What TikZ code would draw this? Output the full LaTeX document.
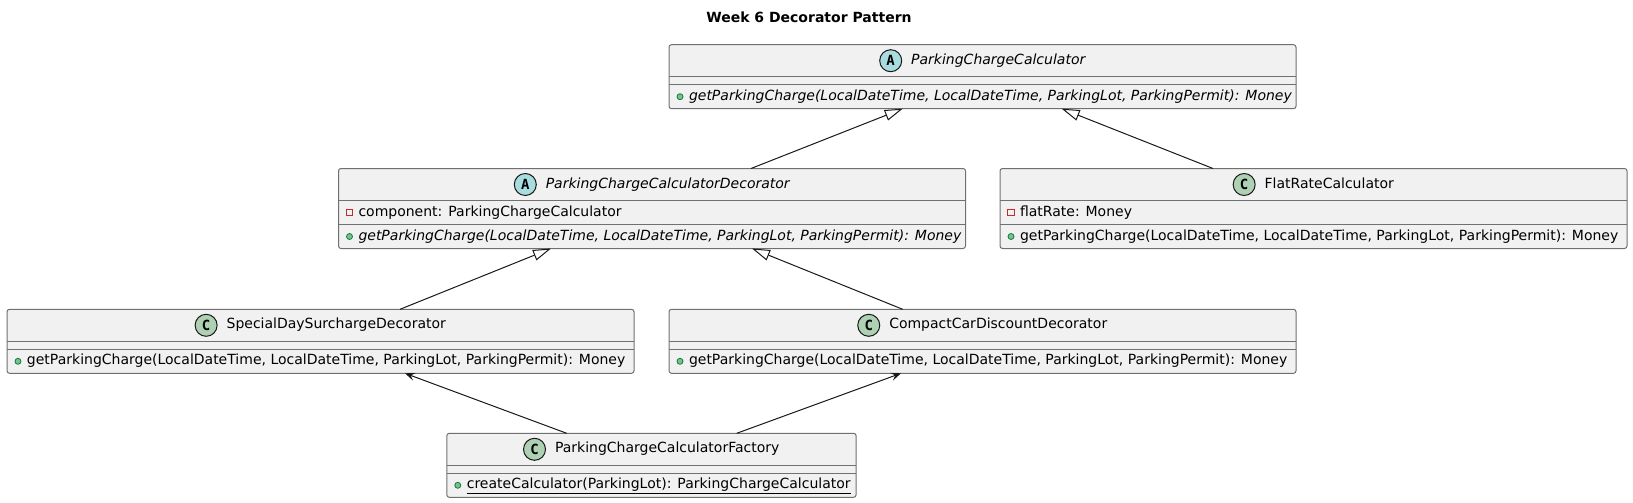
\documentclass[tikz,border=0pt]{standalone}
\usepackage{fontspec}
\setmainfont{DejaVu Sans}
\newfontfamily\iconfont{DejaVu Sans Mono}
\usetikzlibrary{arrows.meta}
\definecolor{boxfill}{HTML}{F1F1F1}
\definecolor{boxline}{HTML}{707070}
\definecolor{edgecol}{HTML}{181818}
\definecolor{absfill}{HTML}{A9DCDF}
\definecolor{clsfill}{HTML}{ADD1B2}
\definecolor{pubfill}{HTML}{84BE84}
\definecolor{publine}{HTML}{038048}
\definecolor{privline}{HTML}{C82930}
\tikzset{
  classbox/.style={draw=boxline, fill=boxfill, line width=1pt, rounded corners=2.5pt,
    inner sep=0pt, outer sep=0pt, anchor=north west},
  sepline/.style={draw=boxline, line width=1pt},
  hname/.style={inner sep=0pt, outer sep=0pt, text height=10pt, text depth=3pt},
  mtext/.style={anchor=west, inner sep=0pt, outer sep=0pt, text height=10pt, text depth=3pt},
  iconbase/.style={circle, draw=edgecol, line width=1pt, minimum size=22pt, inner sep=0pt,
    font=\iconfont\fontsize{14}{14}\selectfont\bfseries},
  iconA/.style={iconbase, fill=absfill},
  iconC/.style={iconbase, fill=clsfill},
  pubicon/.style={circle, minimum size=6pt, inner sep=0pt, fill=pubfill, draw=publine, line width=0.8pt},
  privicon/.style={rectangle, minimum size=6.5pt, inner sep=0pt, draw=privline, line width=0.8pt},
  ext/.style={draw=edgecol, line width=1pt, -{Triangle[open, length=18pt, width=11pt]}},
  assoc/.style={draw=edgecol, line width=1pt, -{Stealth[length=10pt, width=8pt, inset=4pt]}}
}
\begin{document}
\begin{tikzpicture}[x=1pt, y=-1pt, font=\fontsize{14}{16}\selectfont]
\useasboundingbox (0,0) rectangle (1633,503);
\node[font=\fontsize{14}{16}\selectfont\bfseries] (title) at (809,17.5) {Week 6 Decorator Pattern};

% ParkingChargeCalculator
\node[classbox, minimum width=627pt, minimum height=64pt] (pcc) at (669,44.7) {};
\draw[sepline] ([yshift=-32pt]pcc.north west) -- ([yshift=-32pt]pcc.north east);
\draw[sepline] ([yshift=-40pt]pcc.north west) -- ([yshift=-40pt]pcc.north east);
\node[hname] (pcct) at ([xshift=15.75pt, yshift=-16pt]pcc.north) {\itshape ParkingChargeCalculator};
\node[iconA] (pcci) at ([xshift=-20.5pt]pcct.west) {A};
\node[pubicon] (pccv) at ([xshift=11pt, yshift=-52pt]pcc.north west) {};
\node[mtext] (pccm) at ([xshift=20pt, yshift=-52pt]pcc.north west) {\itshape getParkingCharge(LocalDateTime, LocalDateTime, ParkingLot, ParkingPermit): Money};

% ParkingChargeCalculatorDecorator
\node[classbox, minimum width=627pt, minimum height=80pt] (dec) at (338.5,168.5) {};
\draw[sepline] ([yshift=-32pt]dec.north west) -- ([yshift=-32pt]dec.north east);
\draw[sepline] ([yshift=-56pt]dec.north west) -- ([yshift=-56pt]dec.north east);
\node[hname] (dect) at ([xshift=15.75pt, yshift=-16pt]dec.north) {\itshape ParkingChargeCalculatorDecorator};
\node[iconA] (deci) at ([xshift=-20.5pt]dect.west) {A};
\node[privicon] (decv1) at ([xshift=11pt, yshift=-44pt]dec.north west) {};
\node[mtext] (deca) at ([xshift=20pt, yshift=-44pt]dec.north west) {component: ParkingChargeCalculator};
\node[pubicon] (decv2) at ([xshift=11pt, yshift=-68pt]dec.north west) {};
\node[mtext] (decm) at ([xshift=20pt, yshift=-68pt]dec.north west) {\itshape getParkingCharge(LocalDateTime, LocalDateTime, ParkingLot, ParkingPermit): Money};

% FlatRateCalculator
\node[classbox, minimum width=627pt, minimum height=80pt] (flat) at (1000,168.5) {};
\draw[sepline] ([yshift=-32pt]flat.north west) -- ([yshift=-32pt]flat.north east);
\draw[sepline] ([yshift=-56pt]flat.north west) -- ([yshift=-56pt]flat.north east);
\node[hname] (flatt) at ([xshift=15.75pt, yshift=-16pt]flat.north) {FlatRateCalculator};
\node[iconC] (flati) at ([xshift=-20.5pt]flatt.west) {C};
\node[privicon] (flatv1) at ([xshift=11pt, yshift=-44pt]flat.north west) {};
\node[mtext] (flata) at ([xshift=20pt, yshift=-44pt]flat.north west) {flatRate: Money};
\node[pubicon] (flatv2) at ([xshift=11pt, yshift=-68pt]flat.north west) {};
\node[mtext] (flatm) at ([xshift=20pt, yshift=-68pt]flat.north west) {getParkingCharge(LocalDateTime, LocalDateTime, ParkingLot, ParkingPermit): Money};

% SpecialDaySurchargeDecorator
\node[classbox, minimum width=627pt, minimum height=64pt] (spec) at (7,309.3) {};
\draw[sepline] ([yshift=-32pt]spec.north west) -- ([yshift=-32pt]spec.north east);
\draw[sepline] ([yshift=-40pt]spec.north west) -- ([yshift=-40pt]spec.north east);
\node[hname] (spect) at ([xshift=15.75pt, yshift=-16pt]spec.north) {SpecialDaySurchargeDecorator};
\node[iconC] (speci) at ([xshift=-20.5pt]spect.west) {C};
\node[pubicon] (specv) at ([xshift=11pt, yshift=-52pt]spec.north west) {};
\node[mtext] (specm) at ([xshift=20pt, yshift=-52pt]spec.north west) {getParkingCharge(LocalDateTime, LocalDateTime, ParkingLot, ParkingPermit): Money};

% CompactCarDiscountDecorator
\node[classbox, minimum width=627pt, minimum height=64pt] (comp) at (669,309.3) {};
\draw[sepline] ([yshift=-32pt]comp.north west) -- ([yshift=-32pt]comp.north east);
\draw[sepline] ([yshift=-40pt]comp.north west) -- ([yshift=-40pt]comp.north east);
\node[hname] (compt) at ([xshift=15.75pt, yshift=-16pt]comp.north) {CompactCarDiscountDecorator};
\node[iconC] (compi) at ([xshift=-20.5pt]compt.west) {C};
\node[pubicon] (compv) at ([xshift=11pt, yshift=-52pt]comp.north west) {};
\node[mtext] (compm) at ([xshift=20pt, yshift=-52pt]comp.north west) {getParkingCharge(LocalDateTime, LocalDateTime, ParkingLot, ParkingPermit): Money};

% ParkingChargeCalculatorFactory
\node[classbox, minimum width=409.3pt, minimum height=64pt] (fact) at (446.8,433.3) {};
\draw[sepline] ([yshift=-32pt]fact.north west) -- ([yshift=-32pt]fact.north east);
\draw[sepline] ([yshift=-40pt]fact.north west) -- ([yshift=-40pt]fact.north east);
\node[hname] (factt) at ([xshift=15.75pt, yshift=-16pt]fact.north) {ParkingChargeCalculatorFactory};
\node[iconC] (facti) at ([xshift=-20.5pt]factt.west) {C};
\node[pubicon] (factv) at ([xshift=11pt, yshift=-52pt]fact.north west) {};
\node[mtext] (factm) at ([xshift=20pt, yshift=-52pt]fact.north west) {\underline{createCalculator(ParkingLot): ParkingChargeCalculator}};

% connectors
\draw[ext] ([xshift=412.5pt]dec.north west) -- ([xshift=233.7pt]pcc.south west);
\draw[ext] ([xshift=213pt]flat.north west) -- ([xshift=392.7pt]pcc.south west);
\draw[ext] ([xshift=393pt]spec.north west) -- ([xshift=212.5pt]dec.south west);
\draw[ext] ([xshift=233.7pt]comp.north west) -- ([xshift=413.5pt]dec.south west);
\draw[assoc] ([xshift=119.9pt]fact.north west) -- ([xshift=398pt]spec.south west);
\draw[assoc] ([xshift=289.9pt]fact.north west) -- ([xshift=232pt]comp.south west);
\end{tikzpicture}
\end{document}
